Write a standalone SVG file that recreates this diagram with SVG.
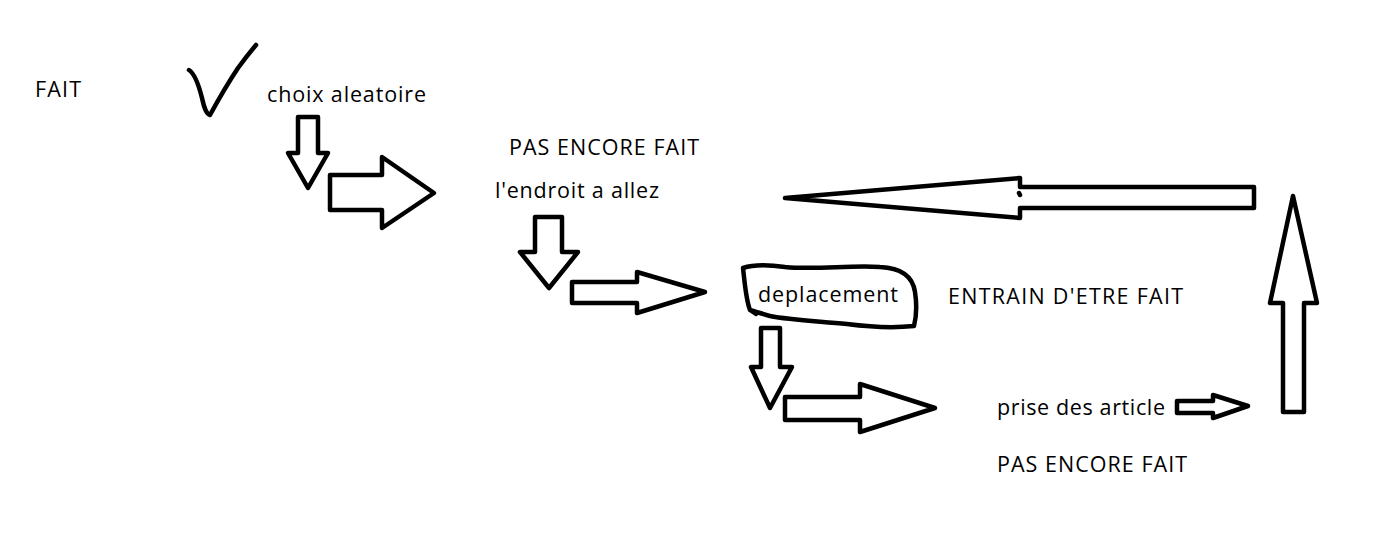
<svg xmlns="http://www.w3.org/2000/svg" width="1387" height="553" viewBox="0 0 1387 553">
<style>
.t{font-family:"Open Sans","Noto Sans","Liberation Sans",sans-serif;font-size:21.5px;fill:#000}
.a{fill:none;stroke:#000;stroke-width:4.5;stroke-linejoin:round;stroke-linecap:round}
</style>
<rect width="1387" height="553" fill="#fff"/>
<g id="labels">
<text class="t" x="35" y="97" textLength="46">FAIT</text>
<text class="t" x="509" y="155" textLength="190">PAS ENCORE FAIT</text>
<text class="t" x="948" y="304" textLength="235">ENTRAIN D'ETRE FAIT</text>
<text class="t" x="997" y="472" textLength="190">PAS ENCORE FAIT</text>
</g>
<g id="check">
<path class="a" d="M189,70 C195,74 199,86 202,98 C204,107 206,114 210,115 C216,104 226,86 238,68 C246,57 251,51 256,45"/>
</g>
<g id="node-choix">
<text class="t" x="267" y="102" textLength="159">choix aleatoire</text>
</g>
<g id="node-endroit">
<text class="t" x="495" y="198" textLength="164">l'endroit a allez</text>
</g>
<g id="node-deplacement">
<path class="a" d="M750,310 C746,300 745,285 743,268 C755,264 770,265 785,267 C815,270 850,265 880,267 C903,268 913,278 915,292 C917,305 916,318 914,326 C895,328 870,327 847,324 C815,321 790,320 770,316 C760,313 753,311 750,310 L756,314"/>
<text class="t" x="758" y="302" textLength="140">deplacement</text>
</g>
<g id="node-prise">
<text class="t" x="997" y="415" textLength="168">prise des article</text>
</g>
<g id="connectors">
<path class="a" d="M298,117 L318,117 L318,153 L328,153 L308,188 L288,153 L298,153 Z"/>
<path class="a" d="M330,175 L382,175 L382,157 L434,193 L382,228 L382,210 L330,210 Z"/>
<path class="a" d="M535,217 L562,217 L562,252 L578,252 L549,288 L520,252 L535,252 Z"/>
<path class="a" d="M572,282 L637,282 L637,272 L705,292 L637,313 L637,303 L572,303 Z"/>
<path class="a" d="M761,328 L780,328 L780,367 L792,367 L770,408 L751,367 L761,367 Z"/>
<path class="a" d="M785,397 L860,397 L860,384 L935,408 L860,432 L860,420 L785,420 Z"/>
<path class="a" d="M1177,401 L1213,401 L1213,395 L1248,406 L1213,418 L1213,413 L1177,413 Z"/>
<path class="a" d="M1283,412 L1304,412 L1304,303 L1317,303 L1293,196 L1270,303 L1283,303 Z"/>
<path class="a" d="M1254,187 L1254,208 L1020,208 L1020,218 L785,198 L1020,178 L1020,187 Z"/>
<path class="a" d="M1019,193 L1020,195"/>
</g>
</svg>
